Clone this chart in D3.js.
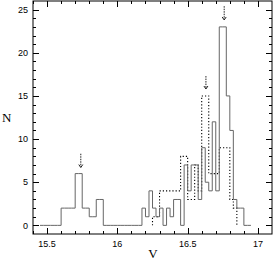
<!DOCTYPE html>
<html>
<head>
<meta charset="utf-8">
<script src="https://cdn.jsdelivr.net/npm/d3@7"></script>
<style>
  html, body { margin: 0; padding: 0; background: #fff; }
  svg { display: block; }
  .tick-label { font-family: "Liberation Sans", Arial, sans-serif; font-size: 9px; fill: #000; }
  .axis-title { font-family: "Liberation Serif", "Times New Roman", serif; font-size: 13px; fill: #000; }
</style>
</head>
<body>
<div id="chart"></div>
<script>
// histogram bins, all 0.025 mag wide
const binWidth = 0.025;

// solid histogram, starts at V = 15.45
const solidStart = 15.45;
const solidCounts = [
  0, 0, 0, 0, 0, 0,
  2, 2, 2, 2, 6, 6, 2, 2, 1, 1, 3, 3,
  0, 0, 0, 0, 0, 0, 0, 0, 0, 0, 0,
  2, 1, 4, 2, 1, 2, 0, 2, 1, 3, 3, 0, 7, 4, 7,
  7, 3, 9, 5, 4, 12, 4, 23, 23, 15, 11, 3, 2, 2,
  0, 0
];

// dotted histogram, starts at V = 16.25
const dottedStart = 16.25;
const dottedCounts = [
  1, 1, 4, 4, 4, 4, 4, 4, 8, 8, 3, 3, 7, 4,
  15, 15, 6, 6, 6, 9, 9, 9, 3, 2
];

// dashed arrows marking the peaks
const arrowV = [15.74, 16.63, 16.76];
const arrowTop = [8.3, 17.3, 25.4];
const arrowTip = [6.7, 15.8, 23.8];

const xMajor = [15.5, 16, 16.5, 17];
const yMajor = [0, 5, 10, 15, 20, 25];

const W = 275, H = 261;
const box = { left: 33, right: 272, top: 1, bottom: 234 };

const svg = d3.select("#chart").append("svg")
  .attr("width", W).attr("height", H);

const x = d3.scaleLinear().domain([15.4, 17.1]).range([box.left, box.right]);
const y = d3.scaleLinear().domain([-1, 26]).range([box.bottom, box.top]);

// frame
svg.append("rect")
  .attr("x", box.left).attr("y", box.top)
  .attr("width", box.right - box.left).attr("height", box.bottom - box.top)
  .attr("fill", "none").attr("stroke", "#000").attr("stroke-width", 1);

// ticks on all four sides, pointing inward
const xMinor = d3.range(154, 171).map(d => d / 10);
const yMinor = d3.range(0, 26);
const isMajorX = v => xMajor.some(m => Math.abs(m - v) < 1e-6);
const isMajorY = v => yMajor.includes(v);

const ticks = svg.append("g").attr("stroke", "#000").attr("stroke-width", 1);
xMinor.forEach(v => {
  const len = isMajorX(v) ? 6 : 3;
  const px = Math.round(x(v)) + 0.5;
  ticks.append("line").attr("x1", px).attr("x2", px).attr("y1", box.bottom).attr("y2", box.bottom - len);
  ticks.append("line").attr("x1", px).attr("x2", px).attr("y1", box.top).attr("y2", box.top + len);
});
yMinor.forEach(v => {
  const len = isMajorY(v) ? 6 : 3;
  const py = Math.round(y(v)) + 0.5;
  ticks.append("line").attr("x1", box.left).attr("x2", box.left + len).attr("y1", py).attr("y2", py);
  ticks.append("line").attr("x1", box.right).attr("x2", box.right - len).attr("y1", py).attr("y2", py);
});

// tick labels
svg.append("g").selectAll("text").data(xMajor).join("text")
  .attr("class", "tick-label")
  .attr("x", d => x(d)).attr("y", box.bottom + 13)
  .attr("text-anchor", "middle")
  .text(d => d);

svg.append("g").selectAll("text").data(yMajor).join("text")
  .attr("class", "tick-label")
  .attr("x", box.left - 5).attr("y", d => y(d)).attr("dy", "0.35em")
  .attr("text-anchor", "end")
  .text(d => d);

// axis titles
svg.append("text").attr("class", "axis-title")
  .attr("x", 2).attr("y", 122).text("N");
svg.append("text").attr("class", "axis-title")
  .attr("x", 153).attr("y", 258).attr("text-anchor", "middle").text("V");

// step histogram helper
const histPoints = (start, counts) => {
  const pts = [{ v: start, n: 0 }];
  counts.forEach((c, i) => pts.push({ v: start + i * binWidth, n: c }));
  pts.push({ v: start + counts.length * binWidth, n: 0 });
  return pts;
};

const step = d3.line()
  .x(d => x(d.v))
  .y(d => y(d.n))
  .curve(d3.curveStepAfter);

svg.append("path")
  .datum(histPoints(dottedStart, dottedCounts))
  .attr("d", step)
  .attr("fill", "none")
  .attr("stroke", "#000")
  .attr("stroke-width", 1.1)
  .attr("stroke-dasharray", "1.2,2");

svg.append("path")
  .datum(histPoints(solidStart, solidCounts))
  .attr("d", step)
  .attr("fill", "none")
  .attr("stroke", "#666")
  .attr("stroke-width", 1);

// arrows
const arrows = svg.append("g").attr("stroke", "#222").attr("fill", "none").attr("stroke-width", 1);
arrowV.forEach((v, i) => {
  const px = x(v), y0 = y(arrowTop[i]), y1 = y(arrowTip[i]);
  arrows.append("line")
    .attr("x1", px).attr("x2", px).attr("y1", y0).attr("y2", y1 - 1)
    .attr("stroke-dasharray", "1.5,1");
  arrows.append("path")
    .attr("d", `M${px - 2},${y1 - 3}L${px},${y1}L${px + 2},${y1 - 3}`);
});
</script>
</body>
</html>
